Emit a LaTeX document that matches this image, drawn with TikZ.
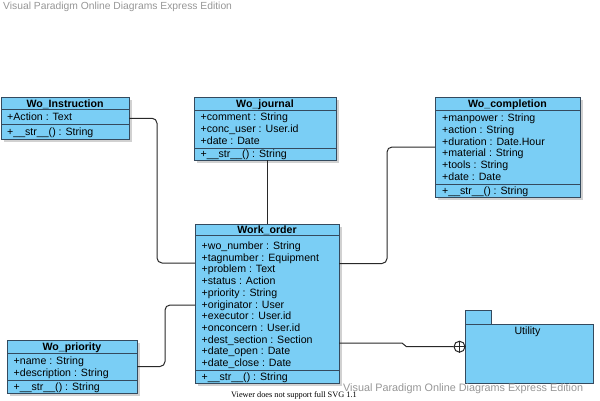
\documentclass[tikz,border=0pt]{standalone}
\usepackage{fontspec}
\setmainfont{Liberation Sans}
\newfontfamily\serifv{Liberation Serif}
\usetikzlibrary{calc}
\definecolor{clsfill}{RGB}{122,206,245}
\definecolor{clsline}{RGB}{52,74,94}
\definecolor{connc}{RGB}{40,40,40}
\definecolor{wmark}{RGB}{150,150,150}
\tikzset{
 classbox/.style={draw=clsline, fill=clsfill, line width=1pt, inner sep=0, outer sep=0},
 shadowbox/.style={fill=black, opacity=0.18},
 sepline/.style={draw=clsline, line width=1pt},
 titletxt/.style={font=\fontsize{10.6}{12}\selectfont\bfseries, inner sep=0, text height=7.6pt, text depth=0pt},
 rowtxt/.style={font=\fontsize{10.6}{12}\selectfont, inner sep=0, text height=7.6pt, text depth=0pt, anchor=west},
 conn/.style={draw=connc, line width=1pt, rounded corners=5pt},
 wmtxt/.style={text=wmark, inner sep=0, anchor=west},
}
\newcommand\UClass[8]{%
  \fill[shadowbox] ({#2+2.5},{#3+2.5}) rectangle ({#4+2.5},{#5+2.5});
  \node[classbox, anchor=north west, minimum width={#4-#2}, minimum height={#5-#3}] (#1) at (#2,#3) {};
  \draw[sepline] (#2,#6) -- (#4,#6) (#2,#7) -- (#4,#7);
  \node[titletxt] (#1-title) at ({(#2+#4)/2},{(#3+#6)/2}) {#8};
}
\begin{document}
\begin{tikzpicture}[x=1pt,y=-1pt]
\useasboundingbox (0,0) rectangle (600,400);

% classes
\UClass{instr}{1}{97}{129}{139.5}{109.5}{124}{Wo\_Instruction}
\node[rowtxt] (instr-a1) at (7,117) {+Action : Text};
\node[rowtxt] (instr-m1) at (7,132) {+\_\_str\_\_() : String};

\UClass{journal}{194}{97}{336}{160}{110}{148}{Wo\_journal}
\foreach \t [count=\i] in {+comment : String, +conc\_user : User.id, +date : Date}
  \node[rowtxt] (journal-a\i) at (200.5,{117+12*(\i-1)}) {\t};
\node[rowtxt] (journal-m1) at (200.5,154) {+\_\_str\_\_() : String};

\UClass{compl}{435}{97}{580}{197}{110.5}{184}{Wo\_completion}
\foreach \t [count=\i] in {+manpower : String, +action : String, +duration : Date.Hour, +material : String, +tools : String, +date : Date}
  \node[rowtxt] (compl-a\i) at (442,{117.7+11.8*(\i-1)}) {\t};
\node[rowtxt] (compl-m1) at (442,190.3) {+\_\_str\_\_() : String};

\UClass{wo}{195}{224}{339}{383}{235.5}{370}{Work\_order}
\foreach \t [count=\i] in {+wo\_number : String, +tagnumber : Equipment, +problem : Text, +status : Action, +priority : String, +originator : User, +executor : User.id, +onconcern : User.id, +dest\_section : Section, +date\_open : Date, +date\_close : Date}
  \node[rowtxt] (wo-a\i) at (201.5,{245.7+11.7*(\i-1)}) {\t};
\node[rowtxt] (wo-m1) at (201.5,376.5) {+\_\_str\_\_() : String};

\UClass{prio}{7}{340}{137}{393}{353}{380}{Wo\_priority}
\node[rowtxt] (prio-a1) at (13.5,361) {+name : String};
\node[rowtxt] (prio-a2) at (13.5,372.7) {+description : String};
\node[rowtxt] (prio-m1) at (13.5,386.5) {+\_\_str\_\_() : String};

% package
\node[classbox, anchor=north west, minimum width=128, minimum height=59] (utility) at (465,324) {};
\node[classbox, anchor=south west, minimum width=26, minimum height=14] (utab) at (utility.north west) {};
\node[rowtxt, anchor=center] (utility-name) at (527.5,331) {Utility};

% connectors
\draw[conn] (instr.east) -- ++(28,0) |- ([yshift=-39pt]wo.north west);
\draw[conn] (wo.north) -- (wo.north |- journal.south);
\draw[conn] (compl.west) -- ++(-48,0) |- ([yshift=-39.5pt]wo.north east);
\draw[conn] (prio.east) -- ++(28,0) |- ([yshift=-81pt]wo.north west);
\node[draw=connc, fill=white, circle, minimum size=11, inner sep=0, line width=1pt] (anc) at (459.5,346.7) {};
\draw[conn, rounded corners=0pt] ([yshift=-119pt]wo.north east) -- ++(63,0) -- ++(4.5,3.7) -- (anc.west);
\draw[draw=connc, line width=1pt] (anc.north) -- (anc.south) (anc.west) -- (anc.east);

% texts
\node[wmtxt, font=\fontsize{10.3}{12}\selectfont] (wm1) at (3,7) {Visual Paradigm Online Diagrams Express Edition};
\node[font=\serifv\fontsize{8.3}{10}\selectfont, inner sep=0, anchor=west] (svgnote) at (231,395) {Viewer does not support full SVG 1.1};
\node[wmtxt, font=\fontsize{10.8}{12}\selectfont] (wm2) at (343,389) {Visual Paradigm Online Diagrams Express Edition};
\end{tikzpicture}
\end{document}
